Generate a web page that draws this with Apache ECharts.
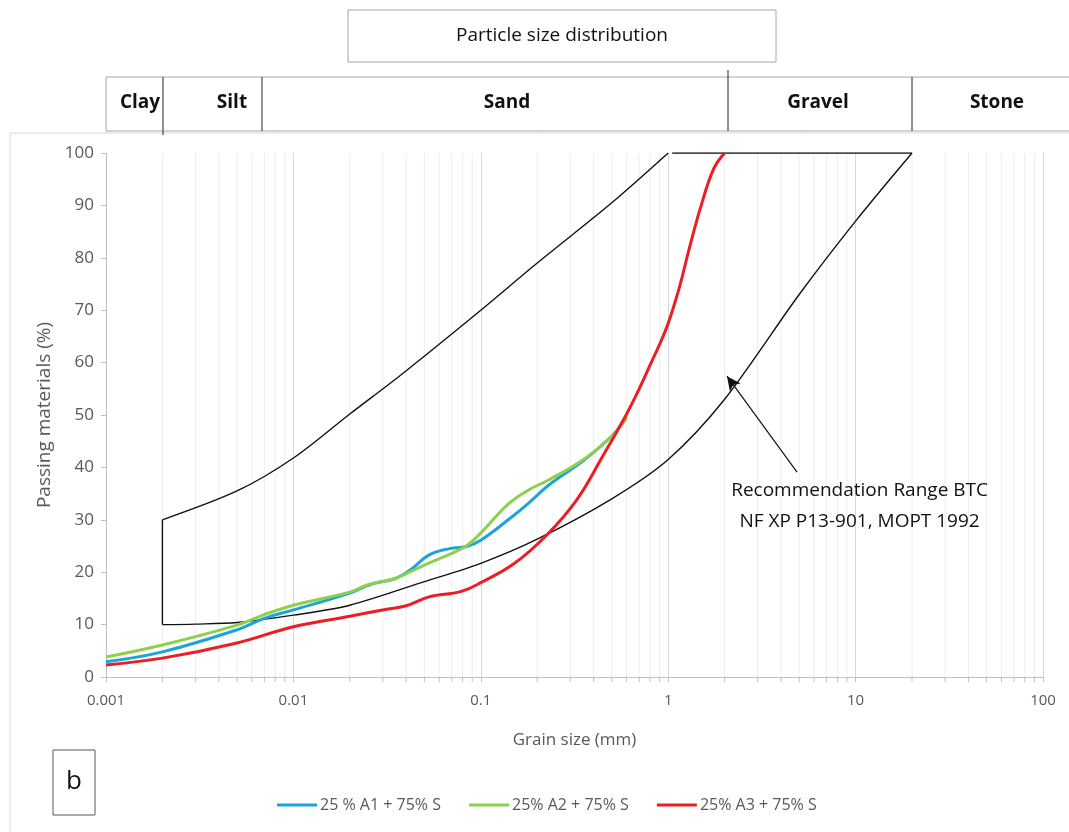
<!DOCTYPE html>
<html>
<head>
<meta charset="utf-8">
<script src="https://cdn.jsdelivr.net/npm/echarts@6/dist/echarts.min.js"></script>
<style>
  html, body { margin: 0; padding: 0; background: #fff; }
  #chart { width: 1069px; height: 832px; }
</style>
</head>
<body>
<div id="chart"></div>
<script>
// grain size (mm) / passing (%)
const mixA1 = [[0.001, 2.9], [0.002, 4.8], [0.005, 9], [0.007, 11.2], [0.01, 12.8], [0.02, 16], [0.026, 17.7],
  [0.035, 18.8], [0.042, 20.4], [0.053, 23.3], [0.068, 24.5], [0.084, 24.9], [0.1, 26.1], [0.14, 30],
  [0.18, 33.2], [0.23, 36.6], [0.35, 41.2], [0.5, 46], [0.6, 49.5]];
const mixA2 = [[0.001, 3.8], [0.002, 6.1], [0.005, 9.9], [0.007, 11.9], [0.01, 13.7], [0.02, 16.2], [0.025, 17.6],
  [0.035, 18.8], [0.042, 20.1], [0.055, 22], [0.07, 23.6], [0.085, 25.2], [0.1, 27.5], [0.14, 33],
  [0.18, 35.7], [0.23, 37.6], [0.35, 41.4], [0.5, 46], [0.6, 49.5]];
const mixA3 = [[0.001, 2.3], [0.002, 3.6], [0.005, 6.5], [0.01, 9.6], [0.02, 11.6], [0.03, 12.8], [0.04, 13.6],
  [0.053, 15.3], [0.078, 16.3], [0.1, 18], [0.15, 21.6], [0.225, 27.1], [0.325, 33.8], [0.45, 42.3],
  [0.6, 50.2], [0.7, 55], [0.8, 59.5], [0.9, 63.5], [1, 67.5], [1.15, 74.5], [1.3, 82], [1.5, 90],
  [1.75, 97], [2, 100]];
const rangeUpper = [[0.002, 30], [0.005, 35.5], [0.01, 41.8], [0.02, 50.2], [0.037, 57.5], [0.1, 70],
  [0.2, 79], [0.5, 90.5], [1, 100]];
const rangeTop = [[1.05, 100], [20, 100]];
const rangeSide = [[0.002, 10], [0.002, 30]];
const rangeLower = [[0.002, 10], [0.003, 10.1], [0.005, 10.4], [0.01, 11.8], [0.02, 13.7], [0.05, 18.2],
  [0.1, 21.7], [0.2, 26.3], [0.5, 34], [1, 41.5], [2, 53], [5, 73], [10, 87], [20, 100]];
const arrowFrom = [4.87, 39.1];
const arrowTo = [2.06, 57.4];
const noteAt = [10.5, 32.6];
const noteText = 'Recommendation Range BTC\nNF XP P13-901, MOPT 1992';

const seriesNames = ['25 % A1 + 75% S', '25% A2 + 75% S', '25% A3 + 75% S'];
const seriesColors = ['#1ca3de', '#8ecf4c', '#ee1c24'];
const decades = [0.001, 0.01, 0.1, 1, 10];
const minorSteps = [2, 3, 4, 5, 6, 7, 8, 9];
const bands = ['Clay', 'Silt', 'Sand', 'Gravel', 'Stone'];

const FONT = '"Open Sans", sans-serif';
const GREY = '#595959';

let minorTicks = [];
decades.forEach(d => minorSteps.forEach(m => minorTicks.push([d * m])));

const chart = echarts.init(document.getElementById('chart'));

function curve(name, data, color, width, z) {
  return {
    name: name, type: 'line', data: data, smooth: 0.4,
    showSymbol: false, symbol: 'none', silent: true, z: z,
    lineStyle: { color: color, width: width }, itemStyle: { color: color }
  };
}

function envelope(data, smooth) {
  return {
    type: 'line', data: data, smooth: smooth, showSymbol: false,
    symbol: 'none', silent: true, z: 3, lineStyle: { color: '#111', width: 1.4 }
  };
}

const option = {
  animation: false,
  textStyle: { fontFamily: FONT },
  grid: { left: 106, right: 26, top: 153, bottom: 155 },
  xAxis: {
    type: 'log', logBase: 10, min: 0.001, max: 100,
    name: 'Grain size (mm)', nameLocation: 'middle', nameGap: 55,
    nameTextStyle: { color: GREY, fontSize: 17, fontFamily: FONT },
    axisLine: { lineStyle: { color: '#bfbfbf' } },
    axisTick: { show: true, length: 5, lineStyle: { color: '#bfbfbf' } },
    axisLabel: { color: GREY, fontSize: 15, margin: 16, fontFamily: FONT },
    splitLine: { show: true, lineStyle: { color: '#d9d9d9', width: 1 } }
  },
  yAxis: {
    type: 'value', min: 0, max: 100, interval: 10,
    name: 'Passing materials (%)', nameLocation: 'middle', nameGap: 48,
    nameTextStyle: { color: GREY, fontSize: 19, fontFamily: FONT },
    axisLine: { show: true, lineStyle: { color: '#bfbfbf' } },
    axisTick: { show: true, length: 5, lineStyle: { color: '#bfbfbf' } },
    axisLabel: { color: GREY, fontSize: 17, margin: 12, fontFamily: FONT },
    splitLine: { show: false }
  },
  legend: {
    data: seriesNames, left: 272, top: 792, icon: 'rect',
    itemWidth: 40, itemHeight: 3, itemGap: 28,
    textStyle: { color: GREY, fontSize: 16, fontFamily: FONT, padding: [0, 0, 0, -2] }
  },
  series: [
    {
      type: 'custom', silent: true, z: 1, data: minorTicks, clip: false,
      renderItem: function (params, api) {
        const top = api.coord([api.value(0), 100]);
        const bottom = api.coord([api.value(0), 0]);
        return {
          type: 'group', children: [
            { type: 'line', shape: { x1: top[0], y1: top[1], x2: bottom[0], y2: bottom[1] },
              style: { stroke: '#eeeeee', lineWidth: 1 } },
            { type: 'line', shape: { x1: bottom[0], y1: bottom[1], x2: bottom[0], y2: bottom[1] + 5 },
              style: { stroke: '#bfbfbf', lineWidth: 1 } }
          ]
        };
      }
    },
    envelope(rangeUpper, 0.3),
    envelope(rangeTop, false),
    envelope(rangeSide, false),
    Object.assign(envelope(rangeLower, 0.3), {
      markLine: {
        silent: true, symbol: ['none', 'arrow'], symbolSize: [10, 14],
        lineStyle: { color: '#111', width: 1.2, type: 'solid' }, label: { show: false },
        data: [[{ coord: arrowFrom }, { coord: arrowTo }]]
      }
    }),
    curve(seriesNames[0], mixA1, seriesColors[0], 3, 4),
    curve(seriesNames[1], mixA2, seriesColors[1], 3, 5),
    curve(seriesNames[2], mixA3, seriesColors[2], 3, 6)
  ]
};

chart.setOption(option);

// header table, outer frame and panel label
const note = chart.convertToPixel({ gridIndex: 0 }, noteAt);
const bandLabelX = [140, 232, 507, 818, 997];
const headerStyle = { fill: '#fff', stroke: '#a6a6a6', lineWidth: 1 };
const graphic = [
  { type: 'line', shape: { x1: 10, y1: 133, x2: 1069, y2: 133 }, style: { stroke: '#d9d9d9' }, z: 0 },
  { type: 'line', shape: { x1: 10, y1: 133, x2: 10, y2: 832 }, style: { stroke: '#d9d9d9' }, z: 0 },
  { type: 'rect', shape: { x: 348, y: 10, width: 428, height: 52 }, style: headerStyle },
  { type: 'text', x: 562, y: 36, style: { text: 'Particle size distribution', fill: '#111', font: '19px ' + FONT,
    align: 'center', verticalAlign: 'middle' } },
  { type: 'rect', shape: { x: 106, y: 77, width: 970, height: 54 }, style: headerStyle },
  { type: 'text', x: note[0], y: note[1], z: 10, style: { text: noteText, fill: '#111', font: '19px ' + FONT,
    align: 'center', verticalAlign: 'middle', lineHeight: 31 } },
  { type: 'rect', shape: { x: 53, y: 750, width: 42, height: 65 }, style: { fill: '#fff', stroke: '#595959', lineWidth: 1 } },
  { type: 'text', x: 74, y: 782, style: { text: 'b', fill: '#111', font: '26px ' + FONT, align: 'center', verticalAlign: 'middle' } }
];
bands.forEach((b, i) => {
  graphic.push({ type: 'text', x: bandLabelX[i], y: 103, style: { text: b, fill: '#111',
    font: 'bold 19px ' + FONT, align: 'center', verticalAlign: 'middle' } });
});
[[163, 77, 135], [262, 77, 131], [728, 70, 131], [912, 77, 131]].forEach(d => {
  graphic.push({ type: 'line', shape: { x1: d[0], y1: d[1], x2: d[0], y2: d[2] }, style: { stroke: '#262626', lineWidth: 1 } });
});
chart.setOption({ graphic: graphic });
</script>
</body>
</html>
